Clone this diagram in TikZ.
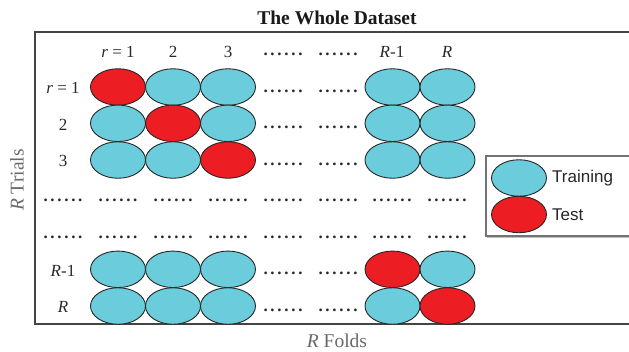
\documentclass[tikz,border=0pt]{standalone}
\usepackage{fontspec}
\setmainfont{Liberation Serif}
\newfontfamily\legendfont{Liberation Sans}
\usetikzlibrary{shapes.geometric}
\definecolor{traincol}{RGB}{107,204,219}
\definecolor{testcol}{RGB}{237,29,36}
\definecolor{framecol}{RGB}{68,68,68}
\definecolor{axiscol}{RGB}{105,105,105}
\definecolor{labcol}{RGB}{40,40,40}
\newcommand\mysixdots{.\hspace{2.7pt}.\hspace{2.7pt}.\hspace{2.7pt}.\hspace{2.7pt}.\hspace{2.7pt}.}
\tikzset{
  fold/.style={ellipse, draw=black!85, line width=0.9pt, minimum width=55pt, minimum height=36.5pt, inner sep=0pt},
  train/.style={fold, fill=traincol},
  testf/.style={fold, fill=testcol},
  lab/.style={anchor=base, inner sep=0pt, text=labcol, font=\fontsize{17}{17}\selectfont},
  dotsn/.style={anchor=base, inner sep=0pt, text=labcol, font=\bfseries\fontsize{17}{17}\selectfont},
  axislab/.style={inner sep=0pt, text=axiscol, font=\fontsize{19.5}{20}\selectfont},
  legtext/.style={anchor=west, inner sep=0pt, text=black!85, font=\legendfont\fontsize{17}{17}\selectfont},
}
\begin{document}
\begin{tikzpicture}[x=1pt,y=-1pt]
\useasboundingbox (0,0) rectangle (629,351);
% title
\node[anchor=base, inner sep=0pt, font=\bfseries\fontsize{19.5}{20}\selectfont, text=black!90] (title) at (337,24) {The Whole Dataset};
% frame (open on the right)
\draw[framecol, line width=1.4pt] (630,32) -- (35,32) -- (35,324) -- (630,324);
% axis labels
\node[axislab, rotate=90] (trials) at (17,180) {\textit{R} Trials};
\node[axislab] (folds) at (337,341) {\textit{R} Folds};
% column headers
\node[lab] (h1) at (118,57.3) {\textit{r} = 1};
\node[lab] (h2) at (173,57.3) {2};
\node[lab] (h3) at (228,57.3) {3};
\node[dotsn] (h4) at (283,55) {\mysixdots};
\node[dotsn] (h5) at (338,55) {\mysixdots};
\node[lab] (h6) at (392,57.3) {\textit{R}-1};
\node[lab] (h7) at (447,57.3) {\textit{R}};
% row labels
\node[lab] (l1) at (63,93.5) {\textit{r} = 1};
\node[lab] (l2) at (63,130) {2};
\node[lab] (l3) at (63,166.7) {3};
\node[lab] (l6) at (63,276) {\textit{R}-1};
\node[lab] (l7) at (63,312.7) {\textit{R}};
% ellipse grid
\foreach \r/\yy in {1/87,2/123.3,3/160,6/269.3,7/306}{
  \foreach \c/\xx in {1/118,2/173,3/228,6/392.5,7/447.5}{
    \ifnum\r=\c
      \node[testf] (e\r\c) at (\xx,\yy) {};
    \else
      \node[train] (e\r\c) at (\xx,\yy) {};
    \fi
  }
  \node[dotsn] (d\r4) at (283,\yy+5) {\mysixdots};
  \node[dotsn] (d\r5) at (338,\yy+5) {\mysixdots};
}
% dotted rows
\foreach \r/\yy in {4/201.5,5/238.5}{
  \foreach \c/\xx in {0/63,1/118,2/173,3/228,4/283,5/338,6/392,7/447}{
    \node[dotsn] (d\r\c) at (\xx,\yy) {\mysixdots};
  }
}
% legend
\draw[black!55, line width=1.2pt] (630,156) -- (486,156) -- (486,236) -- (630,236);
\draw[black!25, line width=0.8pt] (487,237.3) -- (630,237.3);
\node[train] (legtrain) at (519,178) {};
\node[testf] (legtest) at (519,214.5) {};
\node[legtext] (legtraint) at (552,178.5) {Training};
\node[legtext] (legtestt) at (552,215) {Test};
\end{tikzpicture}
\end{document}
